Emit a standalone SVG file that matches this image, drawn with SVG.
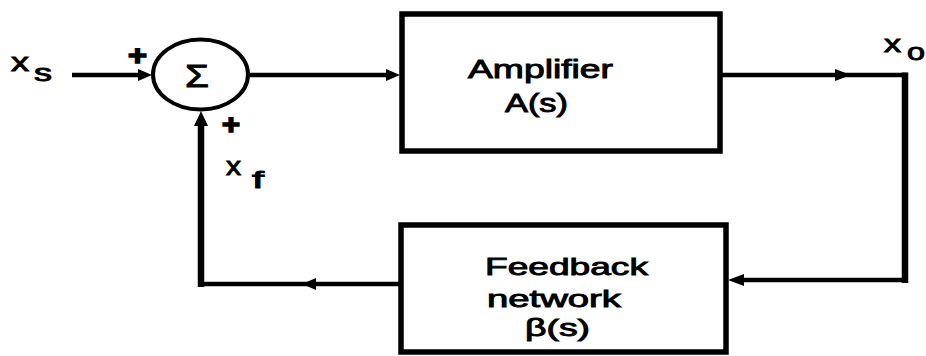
<svg xmlns="http://www.w3.org/2000/svg" width="926" height="356" viewBox="0 0 926 356">
<style>
  .box { fill: #fff; stroke: #000; stroke-width: 5.5; }
  .ln { fill: none; stroke: #000; stroke-width: 4.5; stroke-linejoin: miter; }
  .vl { fill: none; stroke: #000; stroke-width: 6.5; }
  .ah { fill: #000; stroke: none; }
  .t { font-family: "Liberation Sans", Arial, sans-serif; font-weight: normal; fill: #000; stroke: #000; stroke-width: 0.9; }
  .pl { font-family: "Liberation Sans", Arial, sans-serif; font-weight: bold; fill: #000; stroke: #000; stroke-width: 1.6; }
</style>
<rect width="926" height="356" fill="#fff"/>

<g id="connectors">
  <line class="ln" x1="72" y1="75" x2="140" y2="75"/>
  <polygon class="ah" points="152,75 138,69 138,81"/>
  <line class="ln" x1="250" y1="75" x2="390" y2="75"/>
  <polygon class="ah" points="400,75 386,69 386,81"/>
  <polyline class="ln" points="720,75 905,75 905,100"/>
  <polygon class="ah" points="851,75 835,69 835,81"/>
  <line class="vl" x1="905" y1="72.5" x2="905" y2="283"/>
  <line class="ln" x1="908" y1="280" x2="740" y2="280"/>
  <polygon class="ah" points="728,280 744,274 744,286"/>
  <line class="ln" x1="401" y1="284" x2="198" y2="284"/>
  <polygon class="ah" points="302,284 316,278 316,290"/>
  <line class="vl" x1="201" y1="287" x2="201" y2="124"/>
  <polygon class="ah" points="201,111 194,126 208,126"/>
</g>

<g id="sum">
  <ellipse cx="200.5" cy="74.5" rx="47.5" ry="35" fill="#fff" stroke="#000" stroke-width="4"/>
  <text class="t" x="185" y="87" font-size="31" textLength="24" lengthAdjust="spacingAndGlyphs">Σ</text>
</g>

<g id="signs">
  <text class="pl" x="128" y="65" font-size="28" textLength="19" lengthAdjust="spacingAndGlyphs">+</text>
  <text class="pl" x="222" y="134" font-size="27" textLength="18" lengthAdjust="spacingAndGlyphs">+</text>
</g>

<g id="labels">
  <text class="t" x="11" y="71" font-size="26" textLength="18" lengthAdjust="spacingAndGlyphs">x</text>
  <text class="t" x="34" y="81" font-size="23" textLength="18" lengthAdjust="spacingAndGlyphs">s</text>
  <text class="t" x="884" y="52" font-size="24" textLength="17" lengthAdjust="spacingAndGlyphs">x</text>
  <text class="t" x="907" y="60" font-size="23" textLength="18" lengthAdjust="spacingAndGlyphs">o</text>
  <text class="t" x="226" y="175" font-size="25" textLength="15" lengthAdjust="spacingAndGlyphs">x</text>
  <text class="t" x="252" y="188" font-size="24" textLength="12" lengthAdjust="spacingAndGlyphs">f</text>
</g>

<g id="amplifier">
  <rect class="box" x="402" y="14" width="318" height="137"/>
  <text class="t" x="468" y="78" font-size="25" textLength="145" lengthAdjust="spacingAndGlyphs">Amplifier</text>
  <text class="t" x="505" y="112" font-size="25" textLength="63" lengthAdjust="spacingAndGlyphs">A(s)</text>
</g>

<g id="feedback">
  <rect class="box" x="401" y="225" width="325" height="127"/>
  <text class="t" x="485" y="275" font-size="24" textLength="163" lengthAdjust="spacingAndGlyphs">Feedback</text>
  <text class="t" x="487" y="307" font-size="24" textLength="134" lengthAdjust="spacingAndGlyphs">network</text>
  <text class="t" x="525" y="336" font-size="24" textLength="65" lengthAdjust="spacingAndGlyphs">β(s)</text>
</g>
</svg>
